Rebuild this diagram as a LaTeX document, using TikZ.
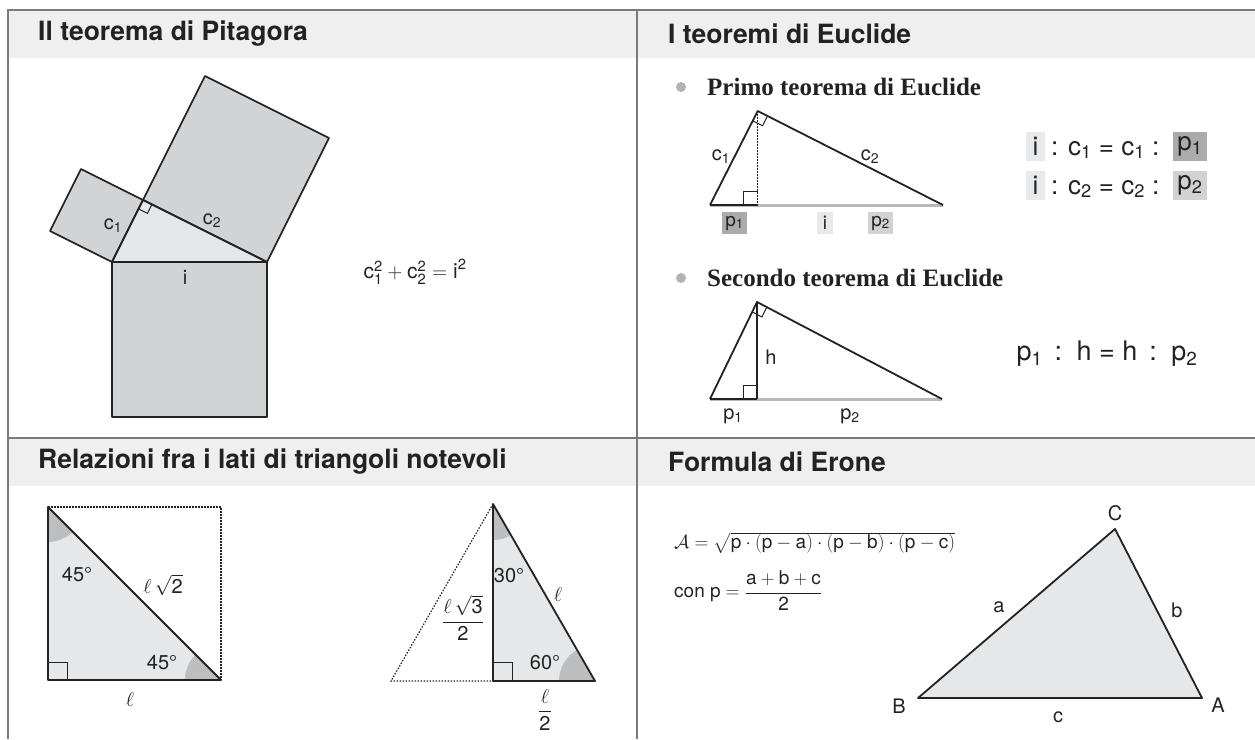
\RequirePackage{fix-cm}
\documentclass[tikz,border=0pt]{standalone}
\usepackage{amsmath}
\usepackage{fontspec}
\setmainfont{TeX Gyre Heros}
\newfontfamily\serifont{Liberation Serif}
\usetikzlibrary{calc}
\definecolor{hdr}{HTML}{EEEFEE}
\definecolor{framec}{HTML}{7A7A7A}
\definecolor{sqc}{HTML}{D2D3D4}
\definecolor{tric}{HTML}{E6E7E8}
\definecolor{sectc}{HTML}{BDBEBF}
\definecolor{basec}{HTML}{B8B8B8}
\definecolor{ponec}{HTML}{ABABAB}
\definecolor{ptwoc}{HTML}{D2D2D2}
\definecolor{iboxc}{HTML}{E8E9EA}
\definecolor{ink}{HTML}{222222}
\definecolor{bulc}{HTML}{B3B3B3}
\newcommand\ramark[4]{\draw[thinline] ($(#1)!#4pt!(#2)$) -- ($(#1)!#4pt!(#2) + (#1)!#4pt!(#3) - (#1)$) -- ($(#1)!#4pt!(#3)$);}
\begin{document}
\begin{tikzpicture}[x=1pt,y=-1pt,
  frameline/.style={draw=framec, line width=2pt},
  hdrtext/.style={anchor=west, font=\fontsize{26.5}{30}\selectfont\bfseries, inner sep=0pt, text=ink},
  bul/.style={circle, fill=bulc, minimum size=10pt, inner sep=0pt},
  bultext/.style={anchor=west, font=\fontsize{25}{29}\selectfont\serifont\bfseries, inner sep=0pt, text=ink},
  edgeline/.style={draw=ink, line width=1.8pt, line join=round},
  thinline/.style={draw=ink, line width=1pt},
  sqstyle/.style={fill=sqc, draw=ink, line width=1.6pt, line join=round},
  tristyle/.style={fill=tric, draw=ink, line width=1.8pt, line join=round},
  baseline/.style={draw=basec, line width=3pt},
  dotline/.style={draw=ink, line width=1.2pt, dash pattern=on 1.5pt off 1.5pt},
  lbl/.style={font=\fontsize{20}{23}\selectfont, inner sep=1pt, text=ink},
  big/.style={font=\fontsize{26}{30}\selectfont, inner sep=0pt, text=ink},
  tag/.style={font=\fontsize{19}{22}\selectfont, inner sep=0pt, text=ink, minimum height=22pt},
  sector/.style={fill=sectc}
]
\useasboundingbox (0,0) rectangle (1255,739);
% headers
\fill[hdr] (8,9.5) rectangle (1255,58);
\fill[hdr] (8,437.5) rectangle (1255,486);
\draw[frameline] (8,739) -- (8,9.5) -- (1255,9.5);
\draw[frameline] (637,9.5) -- (637,739);
\draw[frameline] (8,437.5) -- (1255,437.5);
\node[hdrtext] (h1) at (38,34) {Il teorema di Pitagora};
\node[hdrtext] (h2) at (668,34) {I teoremi di Euclide};
\node[hdrtext] (h3) at (38,462) {Relazioni fra i lati di triangoli notevoli};
\node[hdrtext] (h4) at (668,462) {Formula di Erone};

% Pitagora
\coordinate (pA) at (112,262);
\coordinate (pB) at (267,262);
\coordinate (pC) at (143,200);
\coordinate (pA1) at (50,231);
\coordinate (pC1) at (81,169);
\coordinate (pC2) at (205,76);
\coordinate (pB2) at (329,138);
\coordinate (pD) at (112,417);
\coordinate (pE) at (267,417);
\filldraw[sqstyle] (pA) -- (pC) -- (pC1) -- (pA1) -- cycle;
\filldraw[sqstyle] (pC) -- (pB) -- (pB2) -- (pC2) -- cycle;
\filldraw[sqstyle] (pA) -- (pB) -- (pE) -- (pD) -- cycle;
\filldraw[tristyle] (pA) -- (pB) -- (pC) -- cycle;
\ramark{pC}{pA}{pB}{10}
\node[lbl] (lc1) at (113,226) {c\textsubscript{1}};
\node[lbl] (lc2) at (212,221) {c\textsubscript{2}};
\node[lbl] (li) at (185,277) {i};
\node[lbl, font=\fontsize{21}{24}\selectfont] (pyth) at (415,272) {$\text{c}_{\text{1}}^{\text{2}}+\text{c}_{\text{2}}^{\text{2}}=\text{i}^{\text{2}}$};

% Euclide 1
\node[bul] (b1) at (681,87) {};
\node[bultext] (t1) at (707,87) {Primo teorema di Euclide};
\coordinate (eA) at (710,205);
\coordinate (eC) at (757.7,111);
\coordinate (eB) at (943,205);
\coordinate (eF) at (757.7,205);
\draw[baseline] (eA) -- (eB);
\draw[draw=ink, line width=2.5pt] (eA) -- (eF);
\draw[dotline] (eC) -- (eF);
\draw[edgeline] (eA) -- (eC) -- (eB);
\draw[thinline] (743.7,205) -- (743.7,191.5) -- (757.7,191.5);
\ramark{eC}{eA}{eB}{11}
\node[lbl] (ec1) at (721,157) {c\textsubscript{1}};
\node[lbl] (ec2) at (870,157) {c\textsubscript{2}};
\node[tag, fill=ponec, minimum width=25pt] (ep1) at (734.5,223) {p\textsubscript{1}};
\node[tag, fill=iboxc, minimum width=16pt] (ei) at (825,223) {i};
\node[tag, fill=ptwoc, minimum width=25pt] (ep2) at (880.5,223) {p\textsubscript{2}};
% formulas
\node[big, fill=iboxc, minimum width=19pt, minimum height=29pt] (fi1) at (1035.5,146.5) {i};
\node[big, anchor=base west] (fm1) at (1051,155) {: c\textsubscript{1} = c\textsubscript{1} :};
\node[big, fill=ponec, minimum width=34pt, minimum height=29pt] (fp1) at (1190,146.5) {p\textsubscript{1}};
\node[big, fill=iboxc, minimum width=19pt, minimum height=29pt] (fi2) at (1035.5,185.5) {i};
\node[big, anchor=base west] (fm2) at (1051,194) {: c\textsubscript{2} = c\textsubscript{2} :};
\node[big, fill=ptwoc, minimum width=34pt, minimum height=29pt] (fp2) at (1190,185.5) {p\textsubscript{2}};

% Euclide 2
\node[bul] (b2) at (681,278) {};
\node[bultext] (t2) at (707,278) {Secondo teorema di Euclide};
\coordinate (fA) at (710,399);
\coordinate (fC) at (757,302);
\coordinate (fB) at (942,399);
\coordinate (fF) at (757,399);
\draw[baseline] (fA) -- (fB);
\draw[draw=ink, line width=2.5pt] (fA) -- (fF);
\draw[edgeline] (fC) -- (fF);
\draw[edgeline] (fA) -- (fC) -- (fB);
\draw[thinline] (743,399) -- (743,385) -- (757,385);
\ramark{fC}{fA}{fB}{11}
\node[lbl] (fh) at (771,357) {h};
\node[lbl] (fp1l) at (733,416) {p\textsubscript{1}};
\node[lbl] (fp2l) at (850,416) {p\textsubscript{2}};
\node[big, font=\fontsize{27}{31}\selectfont] (form2) at (1107,354) {p\textsubscript{1} \,:\, h = h \,:\, p\textsubscript{2}};

% 45 triangle
\coordinate (qT) at (48,507);
\coordinate (qQ) at (48,680);
\coordinate (qR) at (221,680);
\coordinate (qS) at (221,507);
\fill[tric] (qT) -- (qQ) -- (qR) -- cycle;
\fill[sector] (qT) -- ++(45:35) arc[start angle=45, end angle=90, radius=35] -- cycle;
\fill[sector] (qR) -- ++(180:36) arc[start angle=180, end angle=225, radius=36] -- cycle;
\draw[dotline] (qT) -- (qS) -- (qR);
\draw[edgeline] (qT) -- (qQ) -- (qR) -- cycle;
\draw[thinline] (48,662) -- (67,662) -- (67,680);
\node[lbl] (q45a) at (77,575) {45°};
\node[lbl] (qhyp) at (163,585) {$\ell\,\sqrt{\text{2}}$};
\node[lbl] (q45b) at (162,663) {45°};
\node[lbl] (qleg) at (130,700) {$\ell$};

% 30-60 triangle
\coordinate (rT) at (493,504);
\coordinate (rQ) at (493,681);
\coordinate (rR) at (595,681);
\coordinate (rL) at (391,681);
\fill[tric] (rT) -- (rQ) -- (rR) -- cycle;
\fill[sector] (rT) -- ++(60:36) arc[start angle=60, end angle=90, radius=36] -- cycle;
\fill[sector] (rR) -- ++(180:36) arc[start angle=180, end angle=240, radius=36] -- cycle;
\draw[dotline] (rT) -- (rL) -- (rQ);
\draw[edgeline] (rT) -- (rQ) -- (rR) -- cycle;
\draw[thinline] (493,662) -- (512,662) -- (512,681);
\node[lbl] (r30) at (509,576) {30°};
\node[lbl] (rhyp) at (558,595) {$\ell$};
\node[lbl] (rh) at (463,618) {$\dfrac{\ell\,\sqrt{\text{3}}}{\text{2}}$};
\node[lbl] (r60) at (545,663) {60°};
\node[lbl] (rb) at (545,710) {$\dfrac{\ell}{\text{2}}$};

% Erone
\node[lbl, font=\fontsize{19}{22}\selectfont, anchor=west] (er1) at (673,543) {$\mathcal{A}=\sqrt{\text{p}\cdot(\text{p}-\text{a})\cdot(\text{p}-\text{b})\cdot(\text{p}-\text{c})}$};
\node[lbl, font=\fontsize{19}{22}\selectfont, anchor=west] (er2) at (673,591) {con p $=\dfrac{\text{a}+\text{b}+\text{c}}{\text{2}}$};
\coordinate (hA) at (1202,698);
\coordinate (hB) at (918,698);
\coordinate (hC) at (1115,529);
\filldraw[tristyle] (hA) -- (hB) -- (hC) -- cycle;
\node[lbl] (lC) at (1115,513) {C};
\node[lbl] (lB) at (899,706) {B};
\node[lbl] (lA) at (1218,705) {A};
\node[lbl] (la) at (999,607) {a};
\node[lbl] (lb) at (1177,610) {b};
\node[lbl] (lcc) at (1058,717) {c};
\end{tikzpicture}
\end{document}
